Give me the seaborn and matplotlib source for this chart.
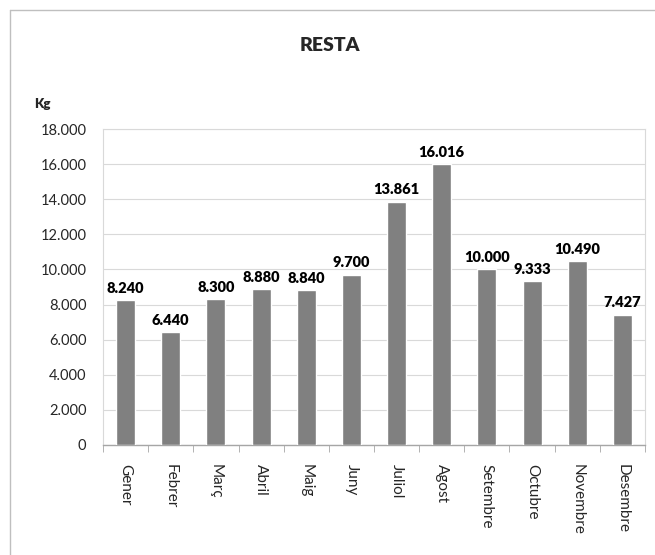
import pandas as pd
import matplotlib
matplotlib.use('Agg')
import matplotlib.pyplot as plt
import seaborn as sns
from matplotlib.ticker import FuncFormatter, FixedLocator

# data
mesos = ['Gener', 'Febrer', 'Març', 'Abril', 'Maig', 'Juny', 'Juliol',
         'Agost', 'Setembre', 'Octubre', 'Novembre', 'Desembre']
kg = [8240, 6440, 8300, 8880, 8840, 9700, 13861, 16016, 10000, 9333, 10490, 7427]

df = pd.DataFrame({'mes': mesos, 'kg': kg})


def punts(v, pos=None):
    # thousands separator with a dot
    return f'{int(round(v)):,}'.replace(',', '.')


sns.set_style('white')
plt.rcParams['font.family'] = ['Lato', 'DejaVu Sans']

fig = plt.figure(figsize=(6.55, 5.55), dpi=100)
ax = fig.add_axes([103 / 655, 1 - 445 / 555, 542 / 655, 316 / 555])

sns.barplot(data=df, x='mes', y='kg', color='#808080', width=0.42,
            saturation=1, ax=ax, zorder=3)

for i, v in enumerate(kg):
    ax.text(i, v + 300, punts(v), ha='center', va='bottom',
            fontsize=10.5, fontweight='heavy', color='black')

ax.set_ylim(0, 18000)
ax.set_xlim(-0.5, len(mesos) - 0.5)
ax.set_yticks(range(0, 18001, 2000))
ax.yaxis.set_major_formatter(FuncFormatter(punts))
ax.grid(axis='y', color='#d9d9d9', linewidth=0.8, zorder=0)

ax.set_xlabel('')
ax.set_ylabel('')
ax.tick_params(axis='x', length=0, pad=14, labelsize=11, labelrotation=-90)
for lab in ax.get_xticklabels():
    lab.set_va('top')
    lab.set_ha('center')
ax.xaxis.set_minor_locator(FixedLocator([i - 0.5 for i in range(len(mesos) + 1)]))
ax.tick_params(axis='x', which='minor', length=5, color='#a6a6a6', bottom=True)
ax.tick_params(axis='y', length=0, labelsize=10.5, pad=12)

for s in ['top', 'right', 'left']:
    ax.spines[s].set_color('#d9d9d9')
    ax.spines[s].set_linewidth(0.8)
ax.spines['bottom'].set_color('#a6a6a6')
ax.spines['bottom'].set_linewidth(1.0)

fig.text(330 / 655, 1 - 45 / 555, 'RESTA', ha='center', va='center',
         fontsize=14, fontweight='heavy')
fig.text(42 / 655, 1 - 104 / 555, 'Kg', ha='center', va='center',
         fontsize=9.5, fontweight='heavy')

# outer chart border (cut off at right and bottom)
fig.add_artist(plt.Line2D([10 / 655, 10 / 655], [0, 1 - 10 / 555],
                          color='#bfbfbf', linewidth=1, transform=fig.transFigure))
fig.add_artist(plt.Line2D([10 / 655, 1], [1 - 10 / 555, 1 - 10 / 555],
                          color='#bfbfbf', linewidth=1, transform=fig.transFigure))

fig.savefig('out.png', dpi=100)
